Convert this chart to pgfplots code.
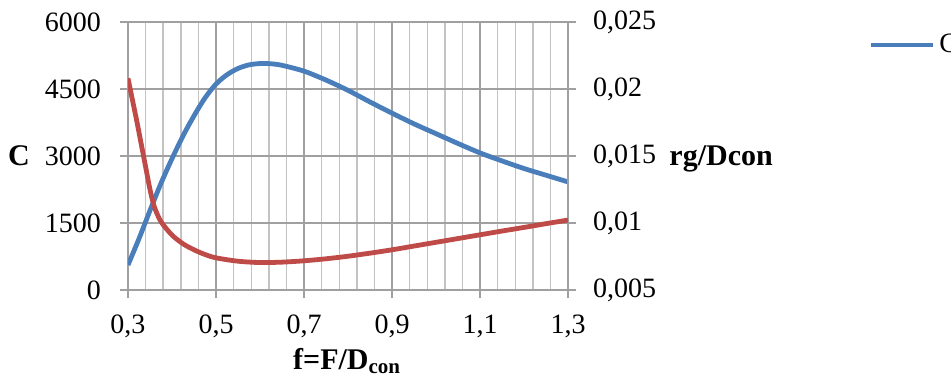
\documentclass[border=0pt]{standalone}
\usepackage{pgfplots}
\pgfplotsset{compat=1.18}
\usepackage{fontspec}
\setmainfont{Liberation Serif}
\definecolor{cblue}{RGB}{74,126,187}
\definecolor{cred}{RGB}{190,75,72}
\definecolor{gmaj}{RGB}{160,160,160}
\definecolor{gmin}{RGB}{195,195,195}
\begin{document}
\begin{tikzpicture}
\pgfplotsset{
  base/.style={
    at={(0,0)}, anchor=south west,
    scale only axis, width=220pt, height=134pt,
    xmin=0.3, xmax=1.3,
    tick label style={font=\fontsize{14}{16}\selectfont},
    label style={font=\fontsize{15}{17}\selectfont\bfseries},
    axis line style={gmaj, line width=0.9pt},
    major tick style={gmaj, line width=0.9pt},
    tick align=outside, major tick length=4pt, minor tick length=0pt,
    scaled y ticks=false, scaled x ticks=false,
  }
}
\begin{axis}[base,
  xtick={0.3,0.5,0.7,0.9,1.1,1.3},
  xticklabels={{0,3},{0,5},{0,7},{0,9},{1,1},{1,3}},
  xticklabel style={yshift=-5pt},
  yticklabel style={xshift=-6pt},
  minor x tick num=4,
  xmajorgrids, xminorgrids, ymajorgrids,
  major grid style={gmaj, line width=0.9pt},
  minor grid style={gmin, line width=0.7pt},
  axis y line*=left, axis x line*=bottom,
  ymin=0, ymax=6000,
  ytick={0,1500,3000,4500,6000},
  yticklabels={0,1500,3000,4500,6000},
  ylabel={C},
  ylabel style={rotate=-90, at={(axis description cs:-0.248,0.5)}, anchor=center},
  xlabel={f=F/D\textsubscript{con}},
  xlabel style={at={(axis description cs:0.498,-0.265)}, anchor=center},
  legend style={draw=none, fill=none, inner sep=0pt, at={(1.682,0.914)}, anchor=west,
    font=\fontsize{14}{16}\selectfont},
  legend image code/.code={\draw[#1] (0pt,0pt)--(31pt,0pt);},
]
\addplot[cblue, line width=2.4pt, smooth] coordinates {
(0.30,560) (0.325,1150) (0.35,1780) (0.375,2390) (0.40,2940) (0.425,3450)
(0.45,3900) (0.475,4300) (0.50,4610) (0.525,4820) (0.55,4960) (0.575,5040)
(0.60,5070) (0.625,5065) (0.65,5030) (0.70,4900) (0.75,4700) (0.80,4470)
(0.85,4210) (0.90,3960) (0.95,3720) (1.00,3500) (1.05,3280) (1.10,3070)
(1.15,2890) (1.20,2720) (1.25,2570) (1.30,2420)};
\addlegendentry{C}
\end{axis}
\begin{axis}[base,
  axis y line*=right, axis x line=none,
  ymin=0.005, ymax=0.025,
  ytick={0.005,0.01,0.015,0.02,0.025},
  yticklabels={{0,005},{0,01},{0,015},{0,02},{0,025}},
  yticklabel style={xshift=5pt},
  ylabel={rg/Dcon},
  ylabel style={rotate=-90, at={(axis description cs:1.348,0.49)}, anchor=center},
]
\addplot[cred, line width=2.4pt, smooth] coordinates {
(0.30,0.0208) (0.31,0.0192) (0.32,0.0176) (0.33,0.0159) (0.34,0.0142)
(0.35,0.0125) (0.36,0.0112) (0.375,0.0101) (0.40,0.0091) (0.425,0.00845)
(0.45,0.0080) (0.475,0.00765) (0.50,0.0074) (0.55,0.00715) (0.60,0.00705)
(0.65,0.00708) (0.70,0.00718) (0.75,0.00733) (0.80,0.00752) (0.85,0.00775)
(0.90,0.00800) (0.95,0.00828) (1.00,0.00856) (1.05,0.00884) (1.10,0.00912)
(1.15,0.00940) (1.20,0.00967) (1.25,0.00995) (1.30,0.01022)};
\end{axis}
\pgfresetboundingbox
\path[use as bounding box] (-64pt,-48.5pt) rectangle (411.5pt,145pt);
\end{tikzpicture}
\end{document}
